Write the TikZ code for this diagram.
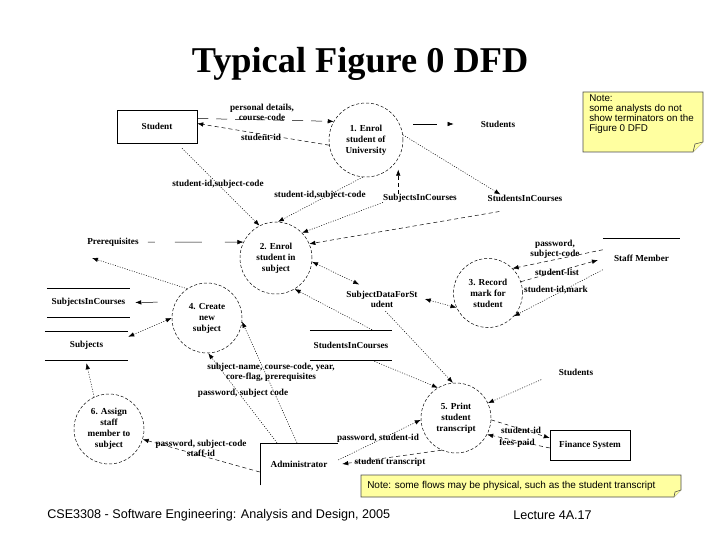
\documentclass[tikz,border=0pt]{standalone}
\usepackage{fontspec}
\setmainfont{Liberation Serif}
\newfontfamily\notefont{Liberation Sans}
\usetikzlibrary{arrows.meta}
\definecolor{notefill}{RGB}{255,255,160}
\newcommand{\dfdfont}{\bfseries\fontsize{9.2}{10}\selectfont}
\newcommand{\procfont}{\bfseries\fontsize{9.2}{11}\selectfont}

\begin{document}
\begin{tikzpicture}[x=1pt, y=-1pt, >={Latex[length=6pt,width=4.5pt]}, line width=0.5pt]
\useasboundingbox (0,0) rectangle (720,540);
% Define styles
\tikzstyle{proc} = [circle, draw, dash pattern=on 3pt off 2pt, minimum size=70pt, inner sep=0pt, align=center, font=\procfont]
\tikzstyle{ext} = [rectangle, draw, inner sep=0pt, font=\dfdfont]
\tikzstyle{store} = [inner sep=0pt, align=center, font=\dfdfont]
\tikzstyle{flowlabel} = [inner sep=0pt, align=center, font=\dfdfont]
\tikzstyle{notebox} = [draw=black!70, fill=notefill, line width=0.6pt]
\tikzstyle{longdash} = [dash pattern=on 11pt off 8pt]
\tikzstyle{dashes} = [dash pattern=on 4pt off 3pt]
\tikzstyle{dots} = [dash pattern=on 1pt off 1.5pt]

% Title
\node[font=\bfseries\fontsize{36.3}{40}\selectfont, anchor=base] (title) at (360,73) {Typical Figure 0 DFD};

% Define nodes
\node[proc, minimum size=74pt] (enrol_uni) at (366,140) {1. Enrol\\student of\\University};
\node[proc, minimum size=72pt] (enrol_subj) at (276,258) {2. Enrol\\student in\\subject};
\node[proc, minimum size=69pt] (record_mark) at (488,293) {3. Record\\mark for\\student};
\node[proc] (create_subj) at (207,318) {4. Create\\new\\subject};
\node[proc] (print_trans) at (456,418) {5. Print\\student\\transcript};
\node[proc] (assign_staff) at (109,429) {6. Assign\\staff\\member to\\subject};

\node[ext, minimum width=80pt, minimum height=33pt] (student) at (157,126.5) {Student};
\node[ext, minimum width=80pt, minimum height=30pt] (finance) at (590,445) {Finance System};
\node[store, minimum width=78pt, minimum height=42pt] (admin) at (299,464) {Administrator};

\node[store] (students_top) at (498,124) {Students};
\node[store] (subjcourses_top) at (420,198) {SubjectsInCourses};
\node[store] (studcourses_top) at (525,198) {StudentsInCourses};
\node[store] (prereq) at (113,242) {Prerequisites};
\node[store, minimum width=83pt, minimum height=29pt] (subjcourses_left) at (88.5,302.5) {SubjectsInCourses};
\node[store, minimum width=83pt, minimum height=29pt] (subjects) at (86.5,345.5) {Subjects};
\node[store] (subjdata) at (382,299) {SubjectDataForSt\\udent};
\node[store, minimum width=82pt, minimum height=30pt] (studcourses_low) at (351,345) {StudentsInCourses};
\node[store, minimum width=77pt, minimum height=40pt] (staff) at (641.5,258) {Staff Member};
\node[store] (students_low) at (576,372) {Students};

% Store and terminator lines
\draw (subjcourses_left.north west) -- (subjcourses_left.north east);
\draw (subjcourses_left.south west) -- (subjcourses_left.south east);
\draw (subjects.north west) -- (subjects.north east);
\draw (subjects.south west) -- (subjects.south east);
\draw (studcourses_low.north west) -- (studcourses_low.north east);
\draw (studcourses_low.south west) -- (studcourses_low.south east);
\draw (staff.north west) -- (staff.north east);
\draw (admin.south west) -- (admin.north west) -- (admin.north east);

% Flow labels
\node[flowlabel] (l_personal) at (262,112.5) {personal details,\\course-code};
\node[flowlabel] (l_sid_uni) at (261,137) {student-id};
\node[flowlabel] (l_sidsc_a) at (218,184) {student-id,subject-code};
\node[flowlabel] (l_sidsc_b) at (320,195) {student-id,subject-code};
\node[flowlabel] (l_pwsc) at (555,249) {password,\\subject-code};
\node[flowlabel] (l_slist) at (557,272) {student-list};
\node[flowlabel] (l_sidmark) at (556,290) {student-id,mark};
\node[flowlabel] (l_subjname) at (271,372) {subject-name, course-code, year,\\core-flag, prerequisites};
\node[flowlabel] (l_pwsubj) at (243,393) {password, subject code};
\node[flowlabel] (l_pwstaff) at (201,448) {password, subject-code\\staff-id};
\node[flowlabel] (l_pwsid) at (378,438) {password, student-id};
\node[flowlabel] (l_trans) at (390,462) {student transcript};
\node[flowlabel] (l_sid_fin) at (521,430) {student-id};
\node[flowlabel] (l_fees) at (517,443) {fees-paid};

% Connect the nodes
\draw[longdash,->] ([yshift=8pt]student.east) -- (enrol_uni.150);
\draw[dashes,->] (enrol_uni.188) -- ([yshift=3pt]student.east);
\draw[dash pattern=on 0pt off 10pt on 24pt off 30pt,->,shorten >=27pt] (enrol_uni.east |- students_top.west) -- (students_top.west);
\draw[dots,->] (enrol_uni.8) -- ([xshift=13pt]studcourses_top.north west);
\draw[dashes,->,shorten >=11pt] (subjcourses_top.north -| enrol_uni.-30) -- (enrol_uni.-30);
\draw[dots,->,shorten <=7pt] ([xshift=20pt]student.south) -- (enrol_subj.117);
\draw[dots,->] (enrol_uni.-95) -- (enrol_subj.87);
\draw[dots,->] (subjcourses_top.south west) -- (enrol_subj.44);
\draw[dashes,->] ([xshift=12pt,yshift=-10pt]studcourses_top.south west) -- (enrol_subj.23);
\draw[dash pattern=on 0pt off 9pt on 7pt off 20pt on 27pt off 23pt on 40pt,->] (prereq.east) -- (enrol_subj.154);
\draw[dots,->] (create_subj.124) -- ([xshift=-21pt,yshift=-16pt]prereq.center);
\draw[dash pattern=on 0pt off 18pt on 16pt off 20pt,->,shorten >=5pt] (create_subj.153) -- (subjcourses_left.east);
\draw[dots,<->] (create_subj.180) -- ([yshift=-6pt]subjects.north east);
\draw[dots,<->] (enrol_subj.-6) -- ([xshift=13pt,yshift=6pt]subjdata.north west);
\draw[dots,<->] ([xshift=7pt]subjdata.east) -- (record_mark.205);
\draw[dots,->] ([xshift=21pt]studcourses_low.north) -- (enrol_subj.-59);
\draw[dots,->,shorten <=5pt] (subjdata.south) -- (print_trans.95);
\draw[dots,->] ([xshift=21pt]studcourses_low.south) -- (print_trans.121);
\draw[dots,->,shorten <=19pt] (students_low.west) -- (print_trans.25);
\draw[dashes,->] ([yshift=-12pt]staff.north west) -- (record_mark.45);
\draw[dashes,->,shorten >=5pt] (record_mark.19) -- ([yshift=-21pt]staff.north west);
\draw[dots,->] ([yshift=-32pt]staff.north west) -- (record_mark.-42);
\draw[dashes,->] (print_trans.-3) -- ([yshift=7pt]finance.west);
\draw[dashes,->] ([yshift=-3pt]finance.west) -- (print_trans.-28);
\draw[dashes,->] ([yshift=-8pt]admin.west) -- (assign_staff.-17);
\draw[dots,->] ([xshift=-22pt]admin.north) -- (create_subj.-88);
\draw[dots,->] ([xshift=-2pt]admin.north) -- (create_subj.-6);
\draw[dots,->] ([yshift=4pt]admin.east) -- (print_trans.183);
\draw[dashes,->] (print_trans.246) -- ([xshift=4pt]admin.east);
\draw[dots,->] (assign_staff.115) -- ([yshift=-3pt]subjects.south);

% Notes
\draw[notebox] (583,92) -- (703,92) -- (703,142) -- (693,152) -- (583,152) -- cycle;
\draw[notebox] (703,142) -- (695,144) -- (693,152);
\node[anchor=north west, align=left, inner sep=0pt, font=\notefont\fontsize{9.8}{10}\selectfont] (note_top) at (589,95) {Note:\\some analysts do not\\show terminators on the\\Figure 0 DFD};
\draw[notebox] (361,475) -- (681,475) -- (681,490) -- (674,497) -- (361,497) -- cycle;
\draw[notebox] (681,490) -- (675,492) -- (674,497);
\node[anchor=west, inner sep=0pt, font=\notefont\fontsize{10}{11}\selectfont] (note_bottom) at (367,486) {Note: some flows may be physical, such as the student transcript};

% Footer
\node[anchor=west, inner sep=0pt, font=\notefont\fontsize{12.6}{14}\selectfont] (footer) at (47,515) {CSE3308 - Software Engineering: Analysis and Design, 2005};
\node[anchor=west, inner sep=0pt, font=\notefont\fontsize{12.6}{14}\selectfont] (lecture) at (513,515) {Lecture 4A.17};
\end{tikzpicture}
\end{document}
